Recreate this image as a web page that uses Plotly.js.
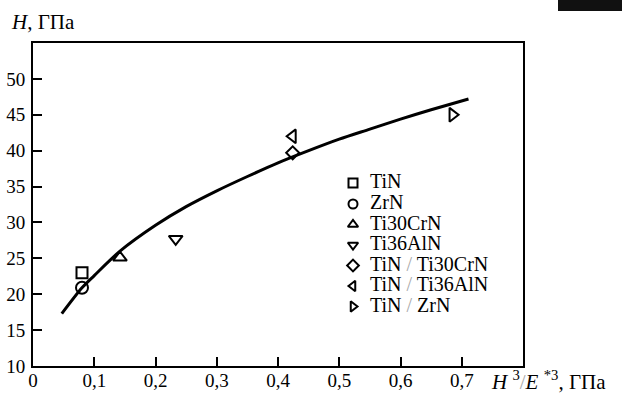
<!DOCTYPE html>
<html>
<head>
<meta charset="utf-8">
<script src="https://cdn.plot.ly/plotly-3.0.1.min.js"></script>
<style>
html,body{margin:0;padding:0;background:#fff;}
#chart{width:622px;height:393px;}
</style>
</head>
<body>
<div id="chart"></div>
<script>
// Materials (legend order)
const materials = ["TiN", "ZrN", "Ti30CrN", "Ti36AlN", "TiN / Ti30CrN", "TiN / Ti36AlN", "TiN / ZrN"];
const ratioH3E3 = [0.08, 0.08, 0.142, 0.233, 0.424, 0.424, 0.685];   // H^3/E*^3, GPa
const hardness  = [23.0, 20.9, 25.1, 27.7, 39.7, 42.0, 45.0];         // H, GPa
const symbols = ["square-open", "circle-open", "triangle-up-open", "triangle-down-open",
                 "diamond-open", "triangle-left-open", "triangle-right-open"];
const markerSizes = [11, 12, 12, 12, 10, 12, 12];

// Fitted curve
const curveX = [0.047, 0.08, 0.1, 0.142, 0.2, 0.25, 0.3, 0.35, 0.4, 0.45, 0.5, 0.55, 0.6, 0.65, 0.711];
const curveY = [17.3, 20.9, 22.6, 26.0, 29.6, 32.2, 34.4, 36.4, 38.3, 40.0, 41.6, 43.0, 44.4, 45.7, 47.2];

// Tick labels
const xTickVals = [0, 0.1, 0.2, 0.3, 0.4, 0.5, 0.6, 0.7];
const xTickText = ["0", "0,1", "0,2", "0,3", "0,4", "0,5", "0,6", "0,7"];
const yTickVals = [10, 15, 20, 25, 30, 35, 40, 45, 50];

const FONT = '"Liberation Serif", "Times New Roman", "DejaVu Serif", serif';
const traces = [];

traces.push({
  x: curveX, y: curveY, type: "scatter", mode: "lines",
  line: {color: "#000", width: 3, shape: "spline", smoothing: 0.8},
  showlegend: false, hoverinfo: "skip"
});

for (let i = 0; i < materials.length; i++) {
  traces.push({
    x: [ratioH3E3[i]], y: [hardness[i]], type: "scatter", mode: "markers",
    name: materials[i], showlegend: false,
    marker: {symbol: symbols[i], size: markerSizes[i], color: "#000", line: {color: "#000", width: 2}}
  });
}

// Custom legend (compact spacing) on an overlay axis spanning the plot area [0,1]
const plotL = 33, plotR = 523, plotT = 43, plotB = 366;
const toPx = v => (v - plotL) / (plotR - plotL);
const toPy = v => (plotB - v) / (plotB - plotT);
const legMarkerX = toPx(353), legTextX = toPx(370);
const legRowsPx = [183, 204, 224.5, 245, 265.5, 286, 306.5];
const legY = legRowsPx.map(toPy);
traces.push({
  x: legY.map(() => legMarkerX), y: legY, xaxis: "x2", yaxis: "y2",
  type: "scatter", mode: "markers", showlegend: false, hoverinfo: "skip",
  marker: {symbol: symbols, size: 9, color: "#000", line: {color: "#000", width: 2}}
});
traces.push({
  x: legY.map(() => legTextX), y: legY, xaxis: "x2", yaxis: "y2",
  type: "scatter", mode: "text", showlegend: false, hoverinfo: "skip",
  text: materials.map(s => s.replace(" / ", " <span style='color:#aaa'>/</span> ")),
  textposition: "middle right",
  textfont: {family: FONT, size: 20, color: "#000"}
});

const axisCommon = {
  showline: true, linecolor: "#000", linewidth: 2, mirror: true,
  ticks: "inside", ticklen: 9, tickwidth: 2, tickcolor: "#000",
  showgrid: false, zeroline: false,
  tickfont: {family: FONT, size: 19, color: "#000"}
};

const layout = {
  width: 622, height: 393,
  margin: {l: plotL, r: 622 - plotR, t: plotT, b: 393 - plotB},
  paper_bgcolor: "#fff", plot_bgcolor: "#fff",
  font: {family: FONT, size: 19, color: "#000"},
  showlegend: false,
  xaxis: Object.assign({}, axisCommon, {range: [0, 0.8], tickvals: xTickVals, ticktext: xTickText, ticklabelstandoff: -4}),
  yaxis: Object.assign({}, axisCommon, {range: [10, 55], tickvals: yTickVals, ticklabelstandoff: 2}),
  xaxis2: {overlaying: "x", range: [0, 1], visible: false},
  yaxis2: {overlaying: "y", range: [0, 1], visible: false},
  annotations: [
    {xref: "paper", yref: "paper", x: toPx(9), y: toPy(22), xanchor: "left", yanchor: "middle",
     text: "<i>H</i>, ГПа", showarrow: false, font: {family: FONT, size: 21, color: "#000"}},
    {xref: "paper", yref: "paper", x: toPx(489), y: toPy(380), xanchor: "left", yanchor: "middle",
     text: "<i>H</i> <sup>3</sup><span style='color:#aaa'>/</span><i>E</i> <sup>*3</sup>, ГПа", showarrow: false,
     font: {family: FONT, size: 21, color: "#000"}}
  ],
  shapes: [
    {type: "rect", xref: "paper", yref: "paper", x0: toPx(558), x1: toPx(622), y0: toPy(11), y1: toPy(0),
     fillcolor: "#111", line: {width: 0}}
  ]
};

Plotly.newPlot("chart", traces, layout, {staticPlot: true, displayModeBar: false});
</script>
</body>
</html>
